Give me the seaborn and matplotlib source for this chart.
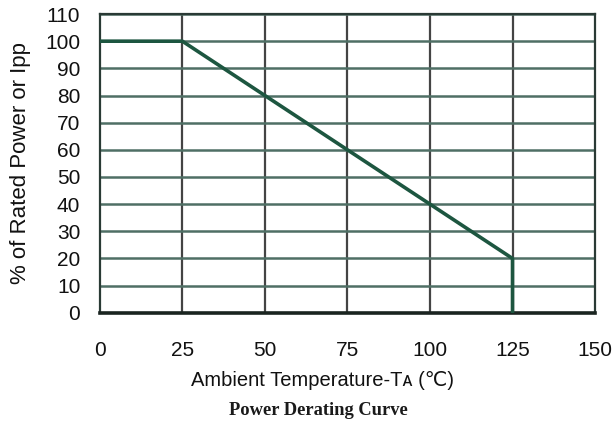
import matplotlib
matplotlib.use("Agg")
import matplotlib.pyplot as plt
import seaborn as sns
import pandas as pd

temperature = [0, 25, 125, 125]
rated_power = [100, 100, 20, 0]

x_ticks = [0, 25, 50, 75, 100, 125, 150]
y_ticks = [0, 10, 20, 30, 40, 50, 60, 70, 80, 90, 100, 110]

df = pd.DataFrame({"temp": temperature, "power": rated_power})

sns.set_style("white")
plt.rcParams["font.family"] = ["Liberation Sans", "DejaVu Sans"]

fig = plt.figure(figsize=(6.16, 4.25), dpi=100)
ax = fig.add_axes([0.162, 0.264, 0.804, 0.703])

# grid
for x in x_ticks[1:-1]:
    ax.axvline(x, color="#444444", linewidth=1.6, zorder=1)
for y in y_ticks[1:]:
    ax.axhline(y, color="#4f6f65", linewidth=1.8, zorder=1)

sns.lineplot(
    data=df,
    x="temp",
    y="power",
    sort=False,
    estimator=None,
    color="#1d5640",
    linewidth=2.6,
    ax=ax,
    zorder=3
)

ax.set_xlim(0, 150)
ax.set_ylim(0, 110)
ax.set_xticks(x_ticks)
ax.set_yticks(y_ticks)
ax.tick_params(axis="x", labelsize=15, pad=20, length=0, colors="#111111")
ax.tick_params(axis="y", labelsize=15, pad=14, length=0, colors="#111111")

for side in ["left", "right", "top"]:
    ax.spines[side].set_color("#2a3a35")
    ax.spines[side].set_linewidth(1.6)
ax.spines["bottom"].set_color("#1a2420")
ax.spines["bottom"].set_linewidth(2.6)

ax.set_xlabel("")
ax.set_ylabel("% of Rated Power or Ipp", fontsize=16, labelpad=10, color="#111111")

fig.text(0.523, 0.104, "Ambient Temperature-T\u1d00 (\u2103)",
         ha="center", va="center", fontsize=14.5, color="#111111",
         family=["Liberation Sans", "DejaVu Sans"])
fig.text(0.517, 0.035, "Power Derating Curve",
         ha="center", va="center", fontsize=13.3, fontweight="bold",
         color="#1a1a1a", family=["Liberation Serif", "DejaVu Serif"])

plt.savefig("out.png", dpi=100)
